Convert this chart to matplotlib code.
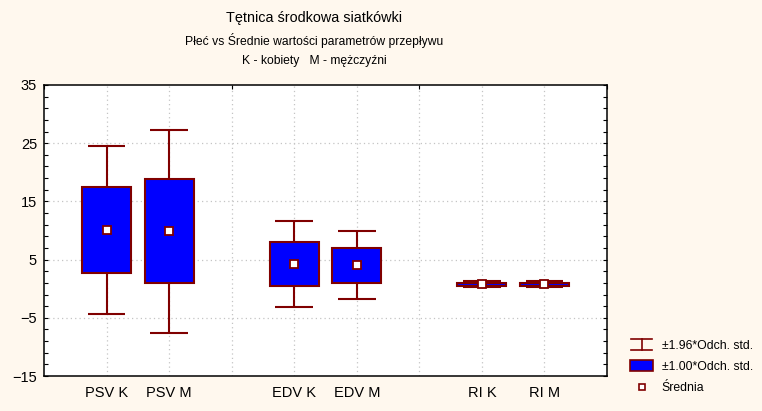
import matplotlib
matplotlib.use("Agg")
import matplotlib.pyplot as plt
from matplotlib.lines import Line2D
from matplotlib.patches import Rectangle
from matplotlib.legend_handler import HandlerBase
import numpy as np

plt.rcParams['font.family'] = ['Liberation Sans', 'DejaVu Sans']

# Data
categories = ["PSV K", "PSV M", "EDV K", "EDV M", "RI K", "RI M"]
positions = [1, 2, 4, 5, 7, 8]
means = [10.1, 9.9, 4.25, 4.05, 0.8, 0.75]
sds = [7.4, 8.9, 3.8, 3.0, 0.26, 0.25]
yticks = [-15, -5, 5, 15, 25, 35]

title_lines = ["Tętnica środkowa siatkówki",
               "Płeć vs Średnie wartości parametrów przepływu",
               "K - kobiety   M - mężczyźni"]
legend_labels = ["±1.96*Odch. std.", "±1.00*Odch. std.", "Średnia"]

BG = '#FFF8EE'
DARK = '#800000'
BLUE = '#0000FF'

fig = plt.figure(figsize=(7.62, 4.11), dpi=100, facecolor=BG)
ax = fig.add_axes([44/762, 1-376/411, (607-44)/762, (376-85)/411])
ax.set_facecolor('white')

means_a = np.array(means)
sds_a = np.array(sds)
pos_a = np.array(positions)

# whiskers +-1.96 sd
lo = means_a - 1.96*sds_a
hi = means_a + 1.96*sds_a
ax.vlines(pos_a, lo, hi, color=DARK, lw=1.5, zorder=3)
ax.hlines(lo, pos_a-0.3, pos_a+0.3, color=DARK, lw=1.5, zorder=3)
ax.hlines(hi, pos_a-0.3, pos_a+0.3, color=DARK, lw=1.5, zorder=3)
# boxes +-1 sd
ax.bar(pos_a, 2*sds_a, bottom=means_a-sds_a, width=0.78, color=BLUE,
       edgecolor=DARK, linewidth=1.5, zorder=4)
# means
ax.plot(pos_a, means_a, linestyle='none', marker='s', markersize=5.5,
        markerfacecolor='white', markeredgecolor=DARK, markeredgewidth=1.3, zorder=5)

ax.set_xlim(0, 9)
ax.set_ylim(-15, 35)
ax.set_yticks(yticks)
ax.set_yticks(np.arange(-15, 36, 2), minor=True)
ax.set_xticks(positions)
ax.set_xticklabels(categories)
ax.set_xticks(range(0, 10), minor=True)

for s in ax.spines.values():
    s.set_color('black')
    s.set_linewidth(1.1)

ax.tick_params(axis='y', which='both', direction='in', left=True, right=True,
               length=3, width=0.8, labelsize=10.5, pad=5)
ax.tick_params(axis='x', which='major', bottom=False, top=False, labelsize=10.5, pad=4)
ax.tick_params(axis='x', which='minor', bottom=False, top=True, direction='in',
               length=3, width=0.8)

# grid
for x in range(1, 9):
    ax.axvline(x, color='#C4C4C4', lw=0.9, ls=(0, (1, 2.5)), zorder=1)
for y in yticks[1:-1]:
    ax.axhline(y, color='#C4C4C4', lw=0.9, ls=(0, (1, 2.5)), zorder=1)

# titles
tx = 314/762
fig.text(tx, 1-18/411, title_lines[0], ha='center', va='center', fontsize=10.4)
fig.text(tx, 1-40/411, title_lines[1], ha='center', va='center', fontsize=8.7)
fig.text(tx, 1-61/411, title_lines[2], ha='center', va='center', fontsize=8.7)


class IBeamHandler(HandlerBase):
    def create_artists(self, legend, orig_handle, xdescent, ydescent, width,
                       height, fontsize, trans):
        cx = width/2 - xdescent
        y0 = -ydescent - 1
        y1 = height - ydescent + 1
        hw = width*0.45
        arts = [Line2D([cx, cx], [y0, y1], color=DARK, lw=1.2),
                Line2D([cx-hw, cx+hw], [y0, y0], color=DARK, lw=1.2),
                Line2D([cx-hw, cx+hw], [y1, y1], color=DARK, lw=1.2)]
        for a in arts:
            a.set_transform(trans)
        return arts


class BoxHandler(HandlerBase):
    def create_artists(self, legend, orig_handle, xdescent, ydescent, width,
                       height, fontsize, trans):
        r = Rectangle((-xdescent, -ydescent - 1), width, height + 2,
                      facecolor=BLUE, edgecolor=DARK, lw=1.2, transform=trans)
        return [r]


h1 = Line2D([], [], color=DARK)
h2 = Rectangle((0, 0), 1, 1)
h3 = Line2D([], [], linestyle='none', marker='s', markersize=5,
            markerfacecolor='white', markeredgecolor=DARK, markeredgewidth=1.2)

leg = fig.legend([h1, h2, h3], legend_labels,
                 handler_map={h1: IBeamHandler(), h2: BoxHandler()},
                 loc='center left', bbox_to_anchor=(619/762, 1-367/411),
                 frameon=False, fontsize=8.8, handlelength=1.9, handletextpad=0.7,
                 labelspacing=0.75)

fig.savefig("out.png", dpi=100, facecolor=BG)
